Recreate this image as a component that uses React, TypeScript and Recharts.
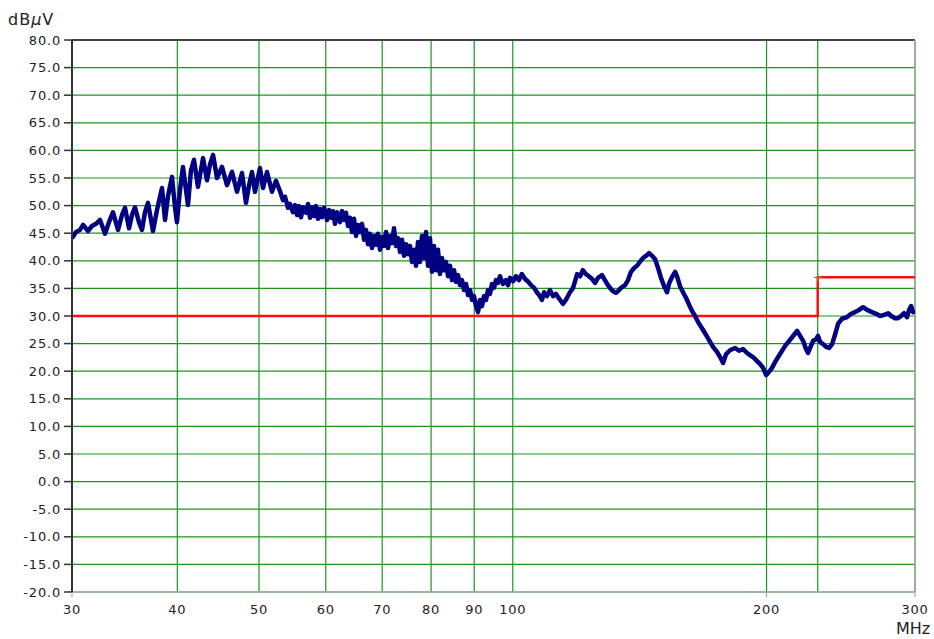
import {
  ComposedChart,
  Line,
  XAxis,
  YAxis,
  CartesianGrid,
  ReferenceLine,
  ReferenceDot,
} from 'recharts';

// axis ticks
const freqTicks = [30, 40, 50, 60, 70, 80, 90, 100, 200, 230, 300];
const unlabeledFreqs = [230];
const markedFreqs = [30, 200, 300];
const levelTicks = [-20, -15, -10, -5, 0, 5, 10, 15, 20, 25, 30, 35, 40, 45, 50, 55, 60, 65, 70, 75, 80];

// limit line (dBuV)
const limitFreqs = [30, 230, 230, 300];
const limitLevels = [30, 30, 37, 37];

// measured trace, MHz
const traceFreqs = [
  30.0, 30.33, 30.66, 30.92, 31.34, 31.68, 32.03, 32.39, 32.83, 33.19, 33.55, 34.02, 34.39, 34.67, 35.06,
  35.34, 35.63, 36.02, 36.32, 36.62, 36.92, 37.43, 37.84, 38.36, 38.68, 38.99, 39.42, 39.75, 39.96, 40.29,
  40.62, 41.18, 41.52, 41.86, 42.32,
  42.91, 43.38, 43.73, 44.1, 44.58, 45.19, 45.81, 46.45, 47.08, 47.73, 48.25, 48.66, 49.05, 49.45, 50.13,
  50.55, 51.1, 51.8, 52.37, 52.95, 53.38, 53.68, 54.12, 54.41, 54.86,
  55.16, 55.47, 55.77, 56.07, 56.38, 56.85, 57.16, 57.47, 57.78, 58.1, 58.42, 58.74, 59.06, 59.39, 59.72,
  60.2, 60.53, 60.87, 61.2, 61.53, 61.87, 62.38, 62.72, 63.07, 63.41, 63.76, 64.11, 64.46, 64.81, 65.17,
  65.53, 65.88, 66.25, 66.61, 66.97, 67.34, 67.71, 68.08, 68.45, 68.83, 69.2, 69.58, 69.96, 70.35, 70.73,
  71.12, 71.51, 71.9, 72.29, 72.69, 73.09, 73.49, 73.89, 74.3, 74.7, 75.11, 75.52, 75.94, 76.35, 76.77,
  77.19, 77.61, 78.04, 78.47, 78.9, 79.33, 79.76, 80.2, 80.64, 81.08, 81.52, 81.97,
  82.41, 82.86, 83.32, 83.78, 84.24, 84.71, 85.17, 85.63, 86.1, 86.57, 87.05, 87.53, 88.01, 88.49, 88.97,
  89.47, 89.95, 90.45, 90.94, 91.43, 91.94, 92.44, 92.94, 93.45, 93.96, 94.47, 95.0, 95.52, 96.04, 96.56,
  97.36, 98.16, 98.7, 99.24, 100.1, 100.9, 101.7, 102.5, 103.4, 104.3, 105.1, 106.0, 106.8, 107.7, 108.3,
  108.9, 109.8, 110.7, 111.6, 112.5, 113.8, 114.7, 115.6, 116.9, 117.9, 119.2, 120.2, 121.1, 122.1, 123.1,
  124.2, 125.2, 126.2, 127.6, 128.6, 129.4, 130.4, 131.5, 132.6, 133.3, 134.4, 135.9, 137.0, 138.1, 139.3,
  140.4, 141.5, 142.7, 143.9, 145.1, 146.3, 147.5, 148.7, 149.9, 151.2, 152.4, 153.2, 154.5, 155.8, 156.6,
  157.9, 159.2, 160.5, 161.9, 163.2, 164.5,
  165.9, 168.1, 170.4, 172.8, 174.7, 176.1, 177.6, 179.1, 181.0, 183.5, 185.5, 187.6, 189.6, 191.2, 193.3,
  194.9, 196.5, 198.1, 199.8, 201.4, 203.0, 205.3, 207.5, 210.4, 213.3, 215.6, 217.4, 219.2, 221.0, 222.8,
  224.0, 225.8, 227.1, 229.0, 230.2, 231.5, 233.4, 235.3, 237.2, 239.2, 241.2, 243.2, 245.8, 249.2, 252.0,
  254.7, 257.5, 260.3, 263.2, 266.8, 269.8, 272.7, 275.7, 278.8, 281.1, 284.1, 286.4, 288.8, 291.2, 293.5,
  295.2, 296.8, 298.4, 300.0,
];

// measured trace, dBuV
const traceLevels = [
  44.1, 45.2, 45.6, 46.5, 45.4, 46.3, 46.7, 47.4, 44.9, 47.0, 48.8, 45.6, 48.3, 49.6, 45.9,
  48.3, 49.7, 47.0, 45.6, 48.8, 50.5, 45.4, 49.2, 53.2, 47.4, 51.7, 55.2, 49.7, 47.0, 52.8,
  57.0, 50.1, 56.4, 58.3, 53.4,
  58.6, 54.6, 57.4, 59.2, 55.0, 57.0, 53.7, 56.1, 52.5, 55.9, 50.5, 53.7, 56.1, 52.5, 56.8,
  53.2, 56.1, 52.5, 54.5, 52.6, 51.0, 51.6, 49.6, 50.3, 48.8,
  50.1, 48.3, 49.9, 47.9, 49.7, 48.7, 50.3, 47.8, 49.7, 48.1, 49.9, 47.6, 49.4, 47.9, 49.6,
  47.4, 49.2, 47.8, 49.0, 46.7, 48.8, 47.0, 49.0, 47.4, 48.7, 46.3, 47.8, 45.2, 47.6, 44.5,
  46.5, 45.2, 46.7, 43.8, 45.6, 43.0, 44.9, 42.3, 44.5, 42.9, 44.9, 42.0, 44.3, 42.7, 45.2,
  42.3, 44.5, 43.2, 45.9, 42.7, 44.1, 41.6, 43.8, 40.9, 43.0, 41.2, 42.7, 39.8, 42.0, 39.1,
  43.4, 39.8, 44.5, 40.5, 45.2, 39.1, 44.1, 38.0, 42.7, 38.3, 42.0, 37.6,
  40.5, 38.3, 39.8, 37.2, 39.1, 36.5, 38.3, 36.2, 37.4, 35.6, 36.5, 34.7, 35.8, 33.8, 34.7,
  32.9, 33.6, 31.8, 30.7, 32.9, 31.8, 33.6, 32.9, 34.7, 34.0, 35.8, 35.1, 36.5, 36.0, 37.2,
  35.8, 36.5, 35.6, 36.9, 36.3, 37.2, 36.5, 37.6, 36.7, 36.2, 35.6, 35.1, 34.3, 33.6, 32.9,
  34.3, 33.6, 34.7, 33.6, 34.0, 32.9, 32.2, 32.9, 34.3, 35.1, 37.6, 37.2, 38.3, 37.6, 37.2,
  36.7, 36.0, 36.9, 37.4, 36.5, 35.8, 35.1, 34.5, 34.2, 34.5, 35.1, 35.6, 36.5, 38.0, 38.7,
  39.1, 39.8, 40.5, 40.9, 41.4, 40.9, 40.3, 38.7, 36.9, 35.4, 34.3, 35.8, 37.1, 38.0, 37.2,
  35.4, 34.3, 33.3, 32.0, 30.9, 30.0,
  28.9, 27.5, 26.0, 24.4, 23.5, 22.6, 21.5, 23.1, 23.8, 24.2, 23.7, 24.0, 23.3, 22.9, 22.4,
  21.8, 21.3, 20.6, 19.3, 19.9, 20.6, 22.0, 23.1, 24.6, 25.7, 26.6, 27.3, 26.4, 25.5, 24.0,
  23.3, 24.6, 25.5, 25.8, 26.4, 25.3, 24.9, 24.4, 24.2, 24.9, 26.7, 28.6, 29.5, 29.8, 30.4,
  30.7, 31.1, 31.6, 31.1, 30.7, 30.4, 30.0, 30.2, 30.5, 30.0, 29.6, 29.6, 30.0, 30.5, 29.8,
  31.1, 31.8, 30.7, 31.1,
];

const traceData = traceFreqs.map((f, i) => ({ f, v: traceLevels[i] }));
const limitData = limitFreqs.map((f, i) => ({ f, v: limitLevels[i] }));

const FONT = '"DejaVu Sans", Verdana, sans-serif';
const GRID = '#1d961d';

function FreqTick(props: any) {
  const { x, y, payload } = props;
  const v = payload.value;
  if (unlabeledFreqs.includes(v)) return <g />;
  return (
    <g>
      {markedFreqs.includes(v) && <line x1={x} x2={x} y1={y - 13} y2={y - 8} stroke="#999" />}
      <text
        x={x}
        y={y}
        dy="0.71em"
        textAnchor="middle"
        fontFamily={FONT}
        fontSize={13}
        letterSpacing={0.8}
        fill="#222"
      >
        {v}
      </text>
    </g>
  );
}

function Cross(props: any) {
  const { cx, cy } = props;
  return (
    <g stroke="#5e9a3c" strokeWidth={1.2}>
      <line x1={cx - 4} x2={cx + 4} y1={cy} y2={cy} />
      <line x1={cx} x2={cx} y1={cy - 4} y2={cy + 4} />
    </g>
  );
}

export default function App() {
  return (
    <div style={{ position: 'relative', width: 934, height: 639, background: '#fff', overflow: 'hidden' }}>
      <style>{'body{margin:0}'}</style>
      <div
        style={{
          position: 'absolute',
          left: 8,
          top: 12,
          fontFamily: FONT,
          fontSize: 16,
          lineHeight: '16px',
          letterSpacing: 1,
          color: '#222',
        }}
      >
        dB<span style={{ fontStyle: 'italic' }}>μ</span>V
      </div>
      <div
        style={{
          position: 'absolute',
          left: 896,
          top: 622,
          fontFamily: FONT,
          fontSize: 16,
          lineHeight: '14px',
          color: '#222',
        }}
      >
        MHz
      </div>

      <ComposedChart width={934} height={639} margin={{ top: 40, right: 19, bottom: 17, left: 0 }}>
        <CartesianGrid stroke={GRID} strokeWidth={1.2} />
        <XAxis
          dataKey="f"
          type="number"
          scale="log"
          domain={[30, 300]}
          ticks={freqTicks}
          allowDataOverflow
          height={30}
          tickSize={4}
          tickMargin={9}
          tickLine={false}
          axisLine={{ stroke: '#aaa', strokeWidth: 1.5 }}
          tick={<FreqTick />}
          interval={0}
        />
        <YAxis
          type="number"
          domain={[-20, 80]}
          ticks={levelTicks}
          width={72}
          tickSize={8}
          tickMargin={3}
          interval={0}
          tickFormatter={(v: number) => v.toFixed(1)}
          tickLine={{ stroke: '#333', strokeWidth: 1.5 }}
          axisLine={{ stroke: '#333', strokeWidth: 2 }}
          tick={{ fontFamily: FONT, fontSize: 13, fill: '#222', letterSpacing: 0.8 }}
        />
        <ReferenceLine y={80} stroke="#444" strokeWidth={2} />
        <ReferenceLine x={300} stroke="#aaa" strokeWidth={1.5} />
        <Line
          data={limitData}
          dataKey="v"
          type="linear"
          stroke="#ff1010"
          strokeWidth={2.5}
          dot={false}
          isAnimationActive={false}
        />
        <Line
          data={traceData}
          dataKey="v"
          type="linear"
          stroke="#000080"
          strokeWidth={4.5}
          strokeLinejoin="round"
          dot={false}
          isAnimationActive={false}
        />
        <ReferenceDot x={limitFreqs[2]} y={limitLevels[2]} shape={<Cross />} />
      </ComposedChart>
    </div>
  );
}
